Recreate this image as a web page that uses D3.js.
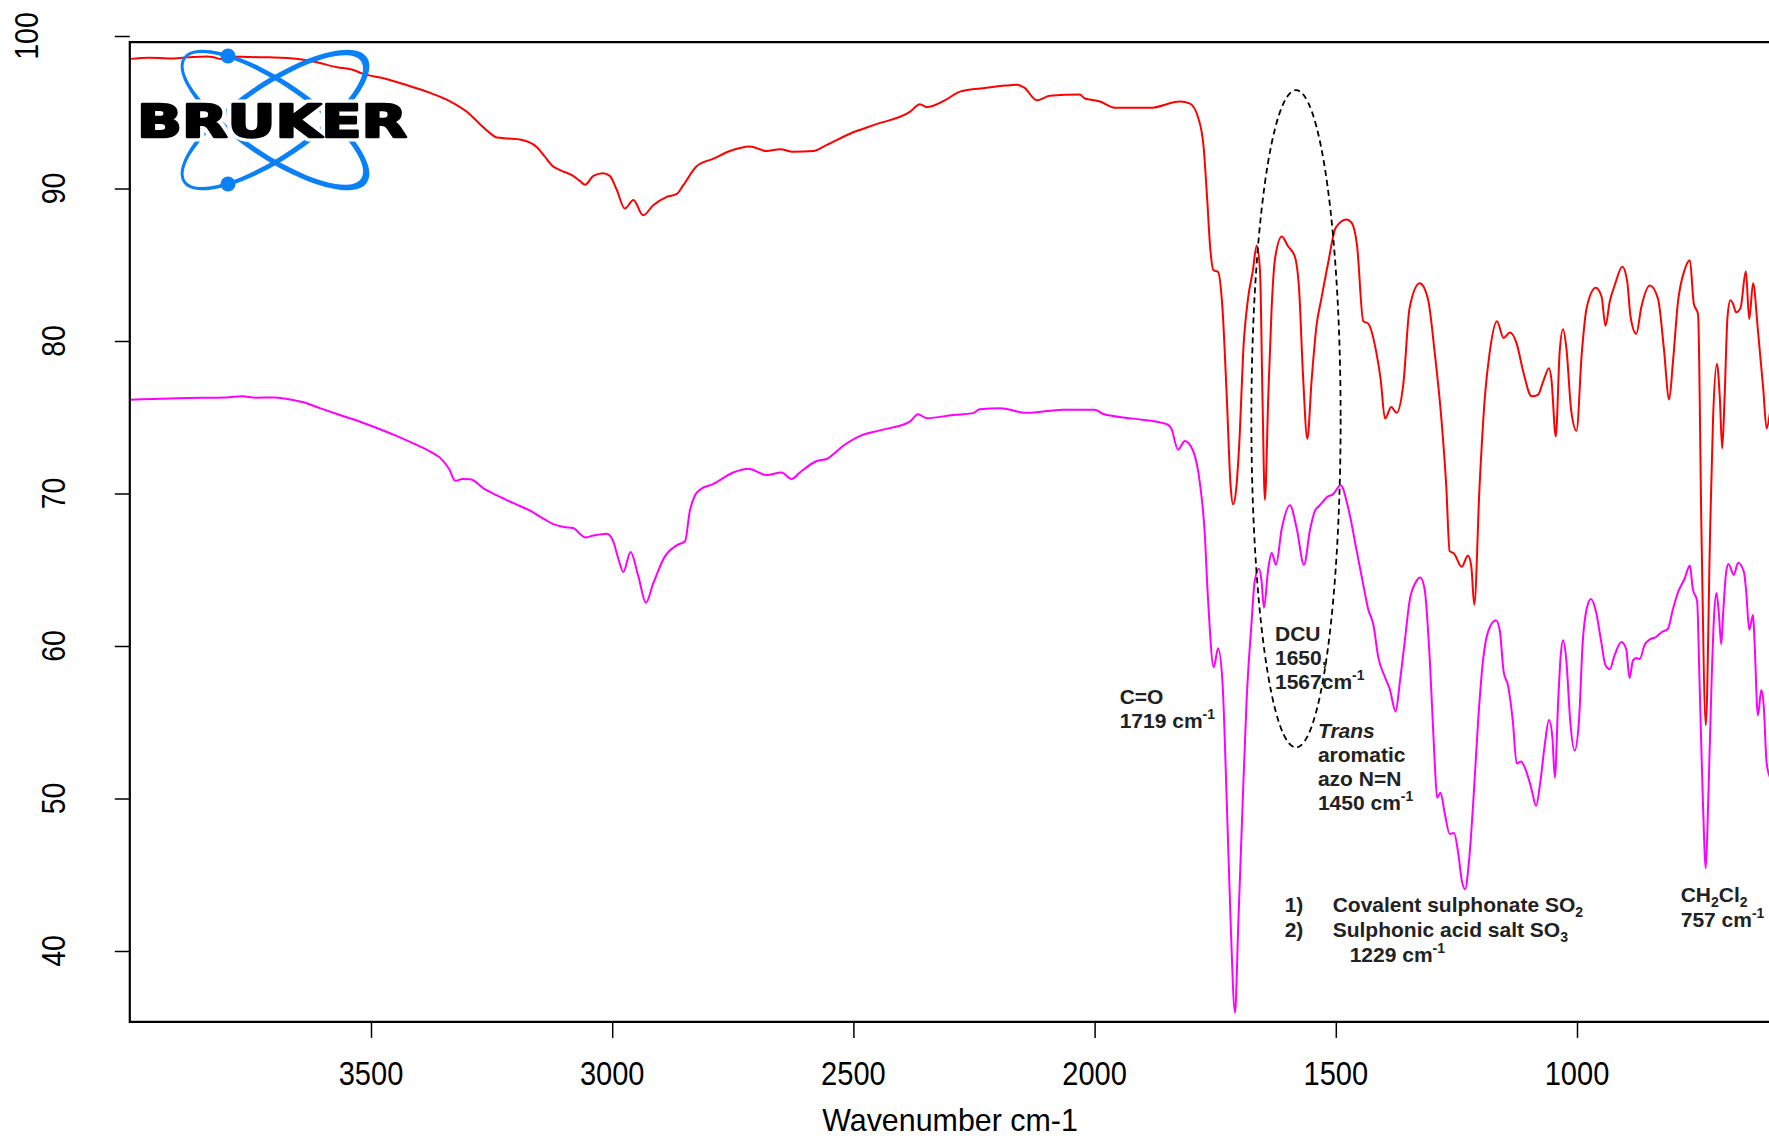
<!DOCTYPE html>
<html>
<head>
<meta charset="utf-8">
<script src="https://cdn.jsdelivr.net/npm/d3@7"></script>
<style>
  body { margin: 0; background: #fff; }
  svg { display: block; }
</style>
</head>
<body>
<svg id="chart" width="1769" height="1138"></svg>
<script>
// FTIR spectra: wavenumber (cm-1) vs transmittance (%)
const redSpectrum = [
  [4000,98.50],[3960,98.58],[3920,98.52],[3880,98.60],[3840,98.66],[3827,98.61],[3810,98.48],
  [3790,98.66],[3750,98.62],[3710,98.60],[3674,98.56],[3640,98.45],[3612,98.28],[3570,97.95],
  [3540,97.80],[3517,97.53],[3470,97.20],[3425,96.77],[3380,96.30],[3336,95.72],[3300,95.00],
  [3274,94.22],[3250,93.55],[3239,93.34],[3215,93.28],[3191,93.21],[3156,92.71],[3140,92.10],
  [3123,91.46],[3108,91.21],[3081,90.83],[3067,90.50],[3056,90.25],[3039,90.83],[3019,91.00],
  [3005,90.83],[2991,89.95],[2974,88.69],[2956,89.25],[2936,88.24],[2915,88.90],[2887,89.45],
  [2866,89.65],[2853,90.20],[2825,91.46],[2790,91.96],[2756,92.46],[2715,92.76],[2680,92.46],
  [2652,92.58],[2625,92.41],[2583,92.46],[2556,92.84],[2507,93.59],[2452,94.22],[2383,95.02],
  [2362,95.52],[2348,95.34],[2307,95.85],[2279,96.35],[2224,96.60],[2196,96.72],[2176,96.77],
  [2162,96.81],[2145,96.60],[2120,95.78],[2093,96.08],[2031,96.16],[2020,95.90],[2010,95.84],
  [1989,95.70],[1958,95.29],[1885,95.29],[1823,95.70],[1803,95.58],[1785,94.62],[1774,92.71],
  [1767,89.49],[1760,85.98],[1754,84.66],[1744,84.52],[1735,82.17],[1726,76.32],[1718,70.47],
  [1713,69.29],[1706,70.47],[1699,73.97],[1692,79.25],[1682,82.76],[1672,84.60],[1664,86.27],
  [1657,84.52],[1652,76.32],[1647,69.59],[1640,76.32],[1633,82.17],[1626,85.39],[1612,86.86],
  [1599,86.21],[1585,85.54],[1576,83.34],[1568,77.78],[1559,73.59],[1550,77.49],[1540,81.00],
  [1530,82.76],[1516,85.10],[1500,87.44],[1478,87.97],[1467,87.74],[1456,86.27],[1443,81.29],
  [1433,81.15],[1416,79.25],[1407,77.49],[1398,74.91],[1385,75.67],[1374,75.29],[1360,77.19],
  [1347,82.17],[1326,83.78],[1309,82.76],[1295,79.25],[1281,74.85],[1271,70.47],[1264,66.22],
  [1255,66.07],[1239,65.19],[1226,65.93],[1219,65.19],[1213,62.71],[1202,70.47],[1191,76.32],
  [1181,79.25],[1166,81.29],[1152,80.20],[1139,80.56],[1125,79.83],[1112,78.07],[1094,76.37],
  [1081,76.47],[1070,77.35],[1058,78.22],[1053,77.49],[1044,73.74],[1036,79.25],[1029,80.77],
  [1022,79.54],[1012,75.44],[1001,74.12],[990,79.25],[980,82.17],[961,83.49],[949,82.90],
  [941,81.00],[932,82.61],[922,83.64],[906,84.87],[896,83.93],[889,81.59],[877,80.47],
  [867,82.17],[849,83.64],[832,82.76],[820,79.54],[809,76.17],[801,78.66],[791,82.47],
  [777,84.66],[766,85.30],[758,82.47],[749,81.73],[742,67.54],[733,54.80],[724,67.54],
  [718,74.85],[710,78.51],[704,76.32],[699,72.95],[694,76.32],[688,81.59],[682,82.67],
  [677,82.47],[670,81.88],[661,82.17],[650,84.57],[643,81.44],[635,83.78],[625,80.71],
  [614,76.90],[607,74.27],[600,75.30]
];

const magentaSpectrum = [
  [4000,76.15],[3950,76.20],[3900,76.25],[3850,76.28],[3800,76.30],[3766,76.38],[3740,76.28],
  [3700,76.30],[3674,76.20],[3640,75.98],[3606,75.60],[3560,75.10],[3517,74.64],[3480,74.20],
  [3446,73.76],[3410,73.25],[3378,72.76],[3350,72.13],[3338,71.60],[3325,70.83],[3310,70.95],
  [3294,70.93],[3265,70.30],[3239,69.88],[3200,69.30],[3170,68.87],[3140,68.30],[3122,67.99],
  [3100,67.80],[3081,67.74],[3067,67.36],[3056,67.12],[3039,67.24],[3011,67.36],[2998,66.87],
  [2988,65.80],[2977,64.85],[2962,66.16],[2946,64.60],[2930,62.84],[2915,64.10],[2891,65.86],
  [2866,66.61],[2849,66.87],[2839,68.87],[2828,69.90],[2818,70.25],[2791,70.62],[2749,71.38],
  [2718,71.63],[2680,71.21],[2649,71.38],[2628,70.95],[2611,71.38],[2576,72.13],[2556,72.26],
  [2521,73.13],[2487,73.76],[2445,74.14],[2383,74.71],[2366,75.19],[2348,74.94],[2293,75.15],
  [2252,75.27],[2238,75.52],[2196,75.59],[2141,75.29],[2065,75.50],[2000,75.50],[1982,75.21],
  [1920,74.91],[1851,74.56],[1841,74.27],[1827,72.87],[1813,73.45],[1796,72.81],[1782,70.75],
  [1772,67.54],[1765,63.15],[1753,58.61],[1744,59.85],[1735,57.69],[1726,49.78],[1718,41.88],
  [1709,35.95],[1702,41.88],[1693,49.78],[1685,56.37],[1675,61.38],[1668,64.28],[1659,65.07],
  [1654,64.28],[1649,62.51],[1640,65.07],[1633,66.12],[1624,65.33],[1612,67.70],[1595,69.23],
  [1581,67.70],[1566,65.33],[1553,67.70],[1543,68.88],[1533,69.23],[1516,69.81],[1506,69.94],
  [1490,70.54],[1474,69.02],[1456,66.12],[1443,64.01],[1433,62.43],[1422,61.38],[1412,59.27],
  [1398,57.95],[1388,57.16],[1376,55.71],[1367,57.69],[1357,60.32],[1347,62.96],[1335,64.14],
  [1325,64.49],[1316,63.75],[1305,59.01],[1295,52.42],[1290,50.05],[1283,50.37],[1274,49.00],
  [1264,47.68],[1255,47.73],[1246,46.36],[1239,44.65],[1232,44.05],[1224,45.84],[1215,49.78],
  [1205,55.06],[1195,59.01],[1184,60.98],[1168,61.69],[1160,61.00],[1152,58.30],[1143,57.42],
  [1133,55.06],[1125,52.29],[1116,52.42],[1105,51.76],[1094,50.58],[1085,49.52],[1076,51.10],
  [1067,53.48],[1058,55.14],[1051,54.00],[1046,51.37],[1039,56.37],[1034,59.27],[1029,60.37],
  [1022,59.01],[1014,55.06],[1005,53.14],[996,55.06],[988,60.32],[980,62.43],[971,63.09],
  [960,62.17],[950,60.32],[941,58.74],[932,58.48],[922,59.40],[908,60.27],[898,59.80],
  [891,57.90],[884,59.06],[877,59.22],[870,59.14],[860,60.06],[848,60.45],[836,60.59],
  [825,60.90],[812,61.11],[801,62.43],[791,63.49],[777,64.41],[766,65.28],[760,63.75],
  [751,62.96],[746,57.69],[739,49.78],[733,45.43],[728,49.78],[721,57.69],[716,61.90],
  [711,63.48],[706,62.17],[701,60.11],[697,62.17],[691,64.80],[686,65.38],[675,64.67],
  [666,65.46],[654,64.85],[649,63.48],[643,61.06],[635,62.04],[632,60.32],[625,55.45],
  [618,57.11],[613,56.11],[607,52.37],[600,51.40]
];

const xTickValues = [3500, 3000, 2500, 2000, 1500, 1000];
const yTickValues = [100, 90, 80, 70, 60, 50, 40];
const xAxisTitle = "Wavenumber cm-1";

// Band assignments: each line is a list of [text, kind] runs
const bandNotes = [
  { wn: 1948, t: 56.2, lines: [
      [["C=O"]],
      [["1719 cm"], ["-1", "sup"]] ] },
  { wn: 1626, t: 60.35, lines: [
      [["DCU"]],
      [["1650,"]],
      [["1567cm"], ["-1", "sup"]] ] },
  { wn: 1537, t: 54.0, lines: [
      [["Trans", "italic"]],
      [["aromatic"]],
      [["azo N=N"]],
      [["1450 cm"], ["-1", "sup"]] ] },
  { wn: 785, t: 43.2, lines: [
      [["CH"], ["2", "sub"], ["Cl"], ["2", "sub"]],
      [["757 cm"], ["-1", "sup"]] ] }
];
const sulphonateNote = {
  wn: 1606, t: 42.58,
  items: [
    ["1)", [["Covalent sulphonate SO"], ["2", "sub"]]],
    ["2)", [["Sulphonic acid salt SO"], ["3", "sub"]]]
  ],
  footer: [["1229 cm"], ["-1", "sup"]]
};
// Dashed outline around the DCU doublet (wavenumber / transmittance extent)
const dcuOutline = { wnHigh: 1675, wnLow: 1490, tHigh: 96.45, tLow: 53.35 };

const svg = d3.select("#chart");
const FONT = "'Liberation Sans', Arial, Helvetica, sans-serif";

const x = d3.scaleLinear().domain([3500, 1000]).range([371, 1577]);
const y = d3.scaleLinear().domain([100, 40]).range([36, 951]);

const frame = {
  left: x(4000), right: x(600),
  top: y(99.6), bottom: y(35.35)
};

svg.append("defs").append("clipPath").attr("id", "plotClip")
  .append("rect")
  .attr("x", frame.left).attr("y", frame.top)
  .attr("width", frame.right - frame.left + 10)
  .attr("height", frame.bottom - frame.top);

// Spectra
const line = d3.line()
  .x(d => x(d[0]))
  .y(d => y(d[1]))
  .curve(d3.curveMonotoneX);

const plot = svg.append("g").attr("clip-path", "url(#plotClip)");
plot.append("path").datum(magentaSpectrum)
  .attr("d", line).attr("fill", "none")
  .attr("stroke", "#ff00ff").attr("stroke-width", 2).attr("stroke-linejoin", "round");
plot.append("path").datum(redSpectrum)
  .attr("d", line).attr("fill", "none")
  .attr("stroke", "#ff0000").attr("stroke-width", 2).attr("stroke-linejoin", "round");

// Frame (left, top, bottom)
const frameG = svg.append("g").attr("stroke", "#000").attr("stroke-width", 2.2).attr("fill", "none");
frameG.append("path")
  .attr("d", `M${frame.right + 5},${frame.top} H${frame.left} V${frame.bottom} H${frame.right + 5}`)
  .attr("stroke-linejoin", "miter");

// X axis
const xAxis = d3.axisBottom(x).tickValues(xTickValues).tickSize(16).tickFormat("");
const xg = svg.append("g").attr("transform", `translate(0,${frame.bottom})`).call(xAxis);
xg.select(".domain").remove();
xg.selectAll(".tick line").attr("stroke", "#000").attr("stroke-width", 1.5);
svg.append("g").selectAll("text").data(xTickValues).join("text")
  .attr("transform", d => `translate(${x(d)},1085) scale(0.88,1)`)
  .attr("text-anchor", "middle")
  .attr("font-family", FONT).attr("font-size", 33).attr("fill", "#000")
  .text(d => d);

svg.append("text")
  .attr("transform", `translate(950,1131) scale(0.95,1)`)
  .attr("text-anchor", "middle")
  .attr("font-family", FONT).attr("font-size", 32).attr("fill", "#000")
  .text(xAxisTitle);

// Y axis (ticks only)
const yAxis = d3.axisLeft(y).tickValues(yTickValues).tickSize(15).tickFormat("");
const yg = svg.append("g").attr("transform", `translate(${frame.left},0)`).call(yAxis);
yg.select(".domain").remove();
yg.selectAll(".tick line").attr("stroke", "#000").attr("stroke-width", 1.5);
svg.append("g").selectAll("text").data(yTickValues).join("text")
  .attr("transform", d => `translate(${d === 100 ? 38 : 65},${y(d)}) rotate(-90) scale(0.86,1)`)
  .attr("text-anchor", "middle")
  .attr("font-family", FONT).attr("font-size", 33).attr("fill", "#000")
  .text(d => d);

// Dashed DCU outline
const ex1 = x(dcuOutline.wnHigh), ex2 = x(dcuOutline.wnLow);
const ey1 = y(dcuOutline.tHigh), ey2 = y(dcuOutline.tLow);
svg.append("ellipse")
  .attr("cx", (ex1 + ex2) / 2).attr("cy", (ey1 + ey2) / 2)
  .attr("rx", (ex2 - ex1) / 2).attr("ry", (ey2 - ey1) / 2)
  .attr("fill", "none").attr("stroke", "#000")
  .attr("stroke-width", 1.8).attr("stroke-dasharray", "6,4");

// Annotation text helpers
const NOTE_SIZE = 21, LINE_GAP = 24.3;
function writeRuns(textSel, runs) {
  let shift = 0;
  runs.forEach(([txt, kind]) => {
    const ts = textSel.append("tspan").text(txt);
    let target = 0;
    if (kind === "sup") { target = -9; ts.attr("font-size", 14); }
    else if (kind === "sub") { target = 5; ts.attr("font-size", 14); }
    else if (kind === "italic") { ts.attr("font-style", "italic"); }
    if (target !== shift) { ts.attr("dy", target - shift); shift = target; }
  });
}
function noteText(g, px, py, runs) {
  const t = g.append("text")
    .attr("x", px).attr("y", py)
    .attr("font-family", FONT).attr("font-weight", "bold")
    .attr("font-size", NOTE_SIZE).attr("fill", "#222");
  writeRuns(t, runs);
  return t;
}

const notesG = svg.append("g");
bandNotes.forEach(n => {
  n.lines.forEach((runs, i) => {
    noteText(notesG, x(n.wn), y(n.t) + i * LINE_GAP, runs);
  });
});
{
  const px = x(sulphonateNote.wn), py = y(sulphonateNote.t);
  sulphonateNote.items.forEach(([num, runs], i) => {
    noteText(notesG, px, py + i * 25, [[num]]);
    noteText(notesG, px + 48, py + i * 25, runs);
  });
  noteText(notesG, px + 65, py + 50, sulphonateNote.footer);
}

// Bruker logo
const logo = svg.append("g").attr("transform", "translate(275,120)");
const BLUE = "#0a80f6";
function orbitPath(a, b, w, off) {
  const A = a + w / 2, B = b + w / 2, a2 = a - w / 2, b2 = b - w / 2;
  return `M${A},0 A${A},${B} 0 1,1 ${-A},0 A${A},${B} 0 1,1 ${A},0 Z ` +
         `M${off + a2},0 A${a2},${b2} 0 1,0 ${off - a2},0 A${a2},${b2} 0 1,0 ${off + a2},0 Z`;
}
[34.3, -34.3].forEach(ang => {
  logo.append("path")
    .attr("transform", `rotate(${ang})`)
    .attr("d", orbitPath(108.7, 36, 5, -2))
    .attr("fill", BLUE).attr("fill-rule", "evenodd");
});
logo.append("circle").attr("cx", -47).attr("cy", -64).attr("r", 7.5).attr("fill", BLUE);
logo.append("circle").attr("cx", -47).attr("cy", 64).attr("r", 7.5).attr("fill", BLUE);
const brandAttrs = t => t
  .attr("x", 137 - 275).attr("y", 137 - 120)
  .attr("textLength", 270).attr("lengthAdjust", "spacingAndGlyphs")
  .attr("font-family", "'DejaVu Sans', sans-serif").attr("font-weight", "bold")
  .attr("font-size", 45).text("BRUKER");
logo.append("text").call(brandAttrs)
  .attr("fill", "#fff").attr("stroke", "#fff").attr("stroke-width", 9).attr("stroke-linejoin", "round");
logo.append("text").call(brandAttrs)
  .attr("fill", "#000").attr("stroke", "#000").attr("stroke-width", 2.4).attr("stroke-linejoin", "round");
</script>
</body>
</html>
